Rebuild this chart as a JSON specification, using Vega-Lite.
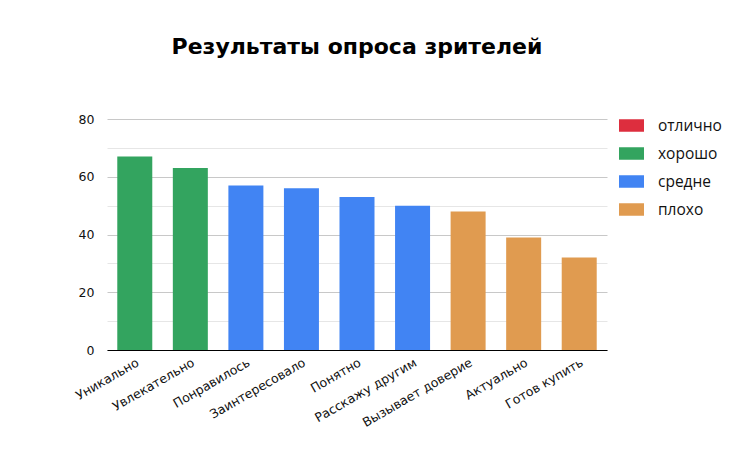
{
  "$schema": "https://vega.github.io/schema/vega-lite/v6.json",
  "width": 500,
  "height": 231,
  "autosize": "none",
  "padding": {"left": 107, "top": 119, "right": 144, "bottom": 119},
  "background": "white",
  "title": {
    "text": "Результаты опроса зрителей",
    "font": "DejaVu Sans",
    "fontSize": 22,
    "fontWeight": "bold",
    "color": "#000000",
    "anchor": "middle",
    "baseline": "alphabetic",
    "offset": 37
  },
  "config": {
    "view": {"stroke": null},
    "axis": {"labelFont": "DejaVu Sans", "labelColor": "#111111"}
  },
  "data": {
    "values": [
      {"item": "Уникально", "value": 67, "rating": "хорошо"},
      {"item": "Увлекательно", "value": 63, "rating": "хорошо"},
      {"item": "Понравилось", "value": 57, "rating": "средне"},
      {"item": "Заинтересовало", "value": 56, "rating": "средне"},
      {"item": "Понятно", "value": 53, "rating": "средне"},
      {"item": "Расскажу другим", "value": 50, "rating": "средне"},
      {"item": "Вызывает доверие", "value": 48, "rating": "плохо"},
      {"item": "Актуально", "value": 39, "rating": "плохо"},
      {"item": "Готов купить", "value": 32, "rating": "плохо"}
    ]
  },
  "mark": {"type": "bar"},
  "encoding": {
    "x": {
      "field": "item",
      "type": "nominal",
      "sort": null,
      "scale": {"paddingInner": 0.37, "paddingOuter": 0.185},
      "axis": {
        "title": null,
        "labelAngle": -30,
        "labelAlign": "right",
        "labelBaseline": "top",
        "labelFontSize": 12.5,
        "labelPadding": 6,
        "ticks": false,
        "domainColor": "#000000",
        "domainWidth": 1.2,
        "grid": false
      }
    },
    "y": {
      "field": "value",
      "type": "quantitative",
      "scale": {"domain": [0, 80], "nice": false},
      "axis": {
        "title": null,
        "values": [0, 10, 20, 30, 40, 50, 60, 70, 80],
        "labelExpr": "datum.value % 20 === 0 ? datum.label : ''",
        "labelFontSize": 12.5,
        "labelPadding": 13,
        "ticks": false,
        "domain": false,
        "grid": true,
        "gridColor": {"condition": {"test": "datum.value % 20 === 0", "value": "#c8c8c8"}, "value": "#e6e6e6"},
        "gridWidth": 1
      }
    },
    "color": {
      "field": "rating",
      "type": "nominal",
      "scale": {
        "domain": ["отлично", "хорошо", "средне", "плохо"],
        "range": ["#dd2e3e", "#33a45f", "#4184f3", "#e09b50"]
      },
      "legend": {
        "title": null,
        "orient": "none",
        "legendX": 512,
        "legendY": -6,
        "symbolType": "M-1,-0.5H1V0.5H-1Z",
        "symbolSize": 625,
        "symbolStrokeWidth": 0,
        "labelFont": "Open Sans",
        "labelFontSize": 15.5,
        "labelColor": "#111111",
        "labelOffset": 14,
        "rowPadding": 7,
        "labelLimit": 200
      }
    }
  }
}
